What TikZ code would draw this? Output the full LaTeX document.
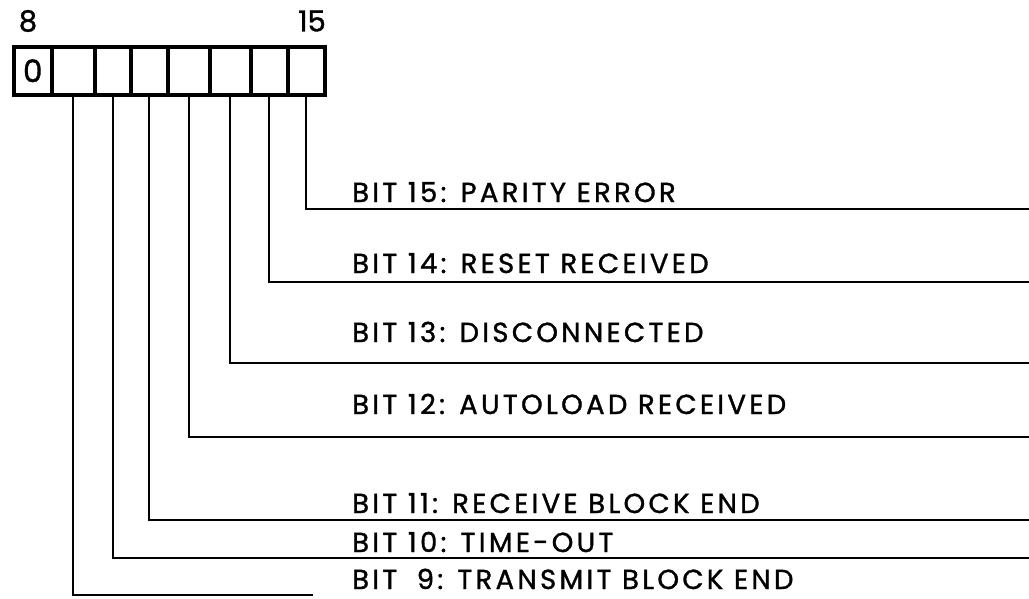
\documentclass[tikz,border=0pt]{standalone}
\usepackage{fontspec}
\setmainfont{Poppins}[FakeBold=1.2]
\usepackage{tikz}
\usetikzlibrary{positioning, calc}
\tikzset{
  %% -- register cell --
  reg/cell/.style={
    draw, line width=3.5pt, inner sep=0pt,
    minimum height=48pt, anchor=north west
  },
  %% -- bit number over the register --
  reg/num/.style={font=\fontsize{29}{29}\selectfont, inner sep=0pt},
  %% -- wire from a cell to its label --
  reg/wire/.style={line width=2.4pt, line cap=rect},
  %% -- bit description --
  reg/lbl/.style={
    anchor=base west, inner sep=0pt, text depth=0pt,
    font=\fontsize{27.5}{28}\selectfont\addfontfeature{LetterSpace=12}
  },
}

\begin{document}
\begin{tikzpicture}[x=1pt, y=-1pt]
\useasboundingbox (0,0) rectangle (1029,598);

%% Register cells 8..15
\foreach \i/\xa/\xb in {0/12/50, 1/50/93, 2/93/129, 3/129/166,
                        4/166/208, 5/208/249, 6/249/286, 7/286/323} {
  \pgfmathsetmacro\w{\xb-\xa}
  \node[reg/cell, minimum width=\w pt] (cell\i) at (\xa,45) {};
}
\node[reg/num, font=\fontsize{31}{31}\selectfont] (zero) at (cell0) {0};
\node[reg/num] (lo) at (28,21) {8};
\node[reg/num, anchor=east] (hi) at (326,21) {15};

%% Wire ends
\coordinate (end15) at (1029,209);
\coordinate (end14) at (1029,282);
\coordinate (end13) at (1029,363);
\coordinate (end12) at (1029,437);
\coordinate (end11) at (1029,520);
\coordinate (end10) at (1029,558);
\coordinate (end9)  at (312,595);

%% Wires
\foreach \i/\b in {1/9, 2/10, 3/11, 4/12, 5/13, 6/14, 7/15}
  \draw[reg/wire] (cell\i.south) |- (end\b);

%% Labels
\node[reg/lbl] (lbl15) at (352,202) {BIT 15: PARITY ERROR};
\node[reg/lbl] (lbl14) at (352,273) {BIT 14: RESET RECEIVED};
\node[reg/lbl] (lbl13) at (352,342) {BIT 13: DISCONNECTED};
\node[reg/lbl] (lbl12) at (352,414) {BIT 12: AUTOLOAD RECEIVED};
\node[reg/lbl] (lbl11) at (352,513) {BIT 11: RECEIVE BLOCK END};
\node[reg/lbl] (lbl10) at (352,552) {BIT 10: TIME-OUT};
\node[reg/lbl] (lbl9)  at (352,589) {BIT \phantom{1}9: TRANSMIT BLOCK END};
\end{tikzpicture}
\end{document}
